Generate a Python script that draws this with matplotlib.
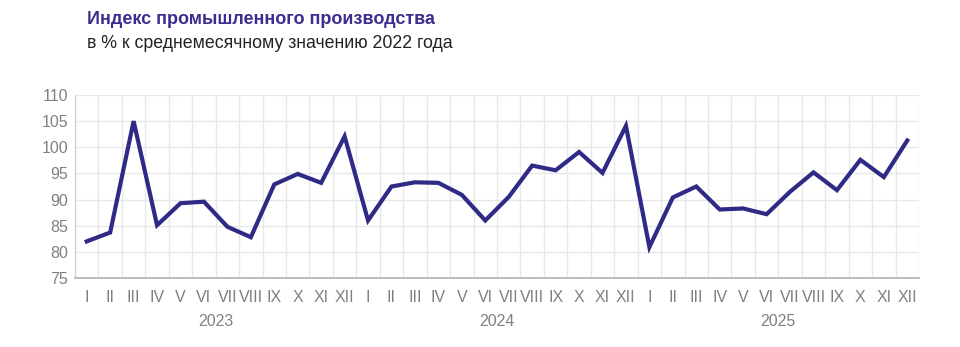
import numpy as np
import matplotlib.pyplot as plt

plt.rcParams['font.family'] = ['Liberation Sans', 'DejaVu Sans']

months = ["I", "II", "III", "IV", "V", "VI", "VII", "VIII", "IX", "X", "XI", "XII"]
years = ["2023", "2024", "2025"]

values_2023 = [82.0, 83.7, 105.0, 85.1, 89.3, 89.6, 84.8, 82.8, 92.9, 94.9, 93.2, 102.1]
values_2024 = [86.0, 92.5, 93.3, 93.2, 90.9, 86.0, 90.5, 96.5, 95.6, 99.1, 95.1, 104.1]
values_2025 = [80.9, 90.4, 92.5, 88.1, 88.3, 87.2, 91.5, 95.2, 91.8, 97.6, 94.3, 101.3]

values = values_2023 + values_2024 + values_2025
labels = months * len(years)
x = np.arange(len(values))

fig = plt.figure(figsize=(9.6, 3.47), dpi=100)
ax = fig.add_axes([75 / 960, 1 - 278 / 347, (919 - 75) / 960, (278 - 95) / 347])

ax.plot(x, values, color="#2f2a85", lw=3, solid_joinstyle="miter", zorder=3)

ax.set_xlim(-0.5, len(values) - 0.5)
ax.set_ylim(75, 110)
ax.set_yticks(range(75, 111, 5))
ax.set_xticks(x)
ax.set_xticklabels(labels)
ax.set_xticks(np.arange(len(values) + 1) - 0.5, minor=True)

ax.grid(False)
ax.yaxis.grid(True, color="#e8e8e8", lw=1)
ax.xaxis.grid(True, which="minor", color="#e8e8e8", lw=1)
ax.set_axisbelow(True)

for s in ["top", "right"]:
    ax.spines[s].set_visible(False)
ax.spines["left"].set_color("#d0d0d0")
ax.spines["bottom"].set_color("#b8b8b8")
ax.spines["bottom"].set_linewidth(1.3)

ax.tick_params(axis="both", which="both", length=0, labelsize=11.5, colors="#808080")
ax.tick_params(axis="x", pad=9)
ax.tick_params(axis="y", pad=5)

for i, yr in enumerate(years):
    ax.text(i * 12 + 5.5, -0.24, yr, transform=ax.get_xaxis_transform(),
            ha="center", va="center", fontsize=11.5, color="#808080")

fig.text(87 / 960, 1 - 20 / 347, "Индекс промышленного производства",
         fontsize=13, fontweight="bold", color="#3b2e8f", va="center")
fig.text(87 / 960, 1 - 44 / 347, "в % к среднемесячному значению 2022 года",
         fontsize=12.8, color="#222222", va="center")

fig.savefig("out.png", dpi=100)
